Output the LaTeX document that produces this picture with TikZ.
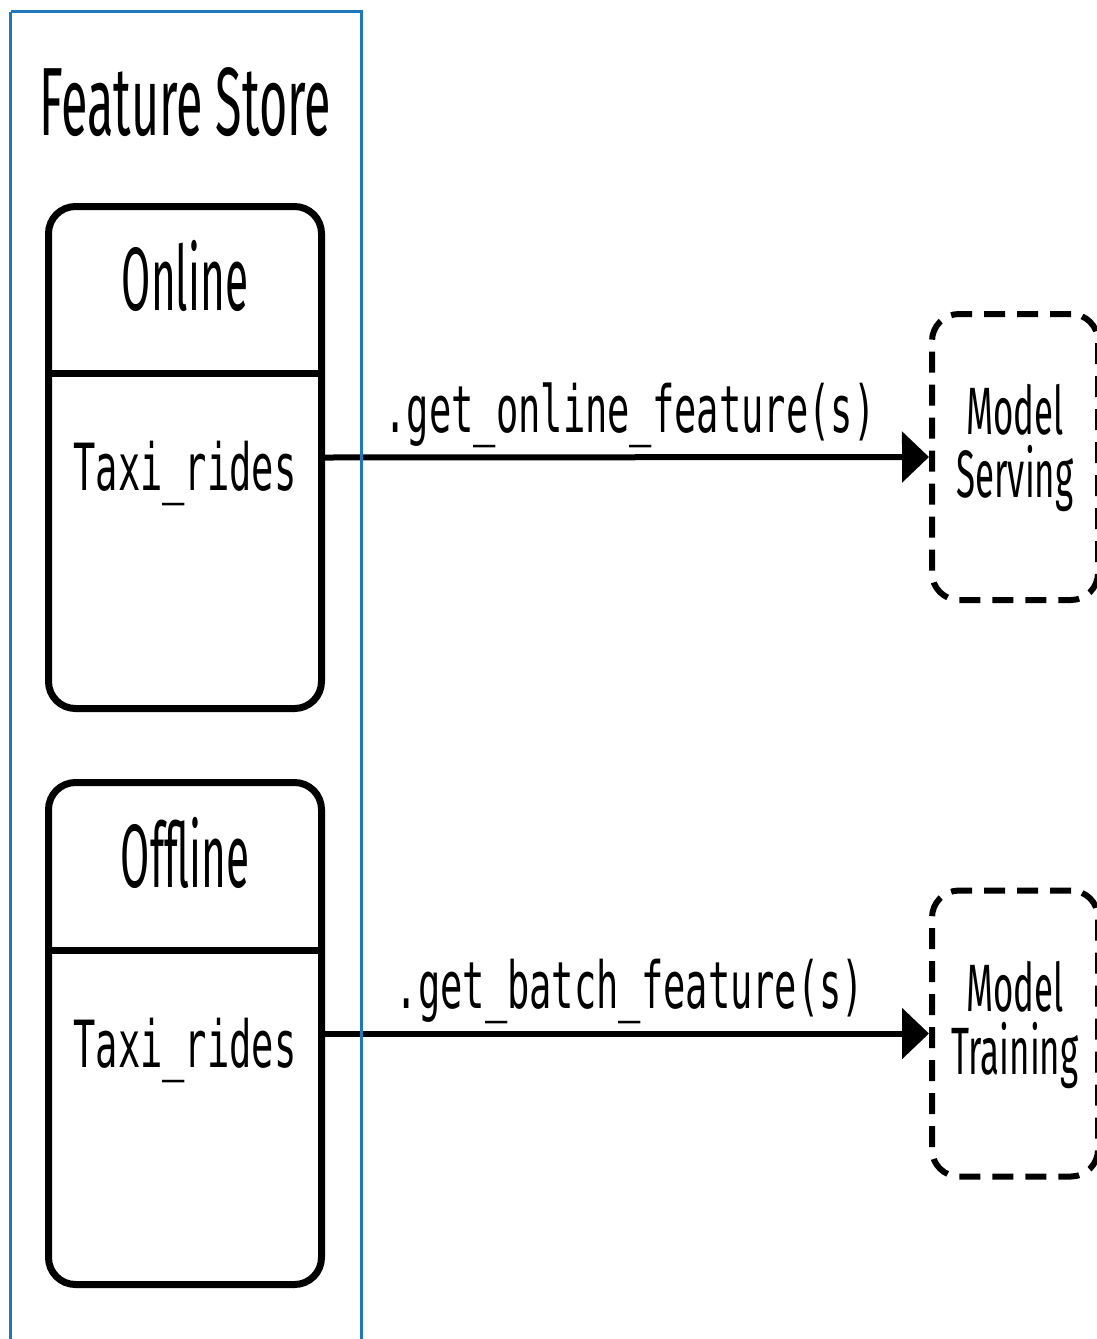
\documentclass[tikz,border=0pt]{standalone}
\usepackage{fontspec}
\setmainfont{Fira Sans}
\newfontfamily\condsans[FakeStretch=0.5]{Fira Sans}
\newfontfamily\subsans[FakeStretch=0.47]{Fira Sans}
\newfontfamily\modelsans[FakeStretch=0.52]{Fira Sans}
\newfontfamily\condmono[FakeStretch=0.57]{DejaVu Sans Mono}
\usetikzlibrary{arrows.meta}
\definecolor{fsblue}{HTML}{1F78BE}
\tikzset{
  frame/.style={draw=fsblue, line width=3.5pt},
  storebox/.style={draw, line width=7pt, rounded corners=27pt, minimum width=273pt, inner sep=0pt},
  divider/.style={line width=7pt},
  dashbox/.style={draw, line width=6pt, dash pattern=on 21pt off 12pt, rounded corners=27pt,
    minimum width=166pt, minimum height=286pt, inner sep=0pt},
  modeltext/.style={inner sep=0pt, align=center, font=\modelsans\fontsize{67}{63}\selectfont},
  conn/.style={line width=6pt, -{Triangle[length=27pt,width=50pt]}},
  title/.style={anchor=base, inner sep=0pt, font=\condsans\fontsize{97}{110}\selectfont},
  subtitle/.style={anchor=base, inner sep=0pt, font=\subsans\fontsize{90}{100}\selectfont},
  monotext/.style={anchor=base, inner sep=0pt, font=\condmono\fontsize{65}{75}\selectfont},
}
\begin{document}
\begin{tikzpicture}[x=1pt,y=-1pt]
\useasboundingbox (0,0) rectangle (1096,1339);
% store boxes
\node[storebox, minimum height=502pt] (online) at (185,457.5) {};
\node[storebox, minimum height=502pt] (offline) at (185,1033.5) {};
\coordinate (onl) at (48.5,373);
\coordinate (onr) at (321.5,373);
\coordinate (offl) at (48.5,950);
\coordinate (offr) at (321.5,950);
\draw[divider] (onl) -- (onr);
\draw[divider] (offl) -- (offr);
% texts in the store
\node[title] (fstitle) at (185,135) {Feature Store};
\node[subtitle] (onlinetitle) at (185,310) {Online};
\node[monotext] (ontaxi) at (185,490) {Taxi\_rides};
\node[subtitle] (offlinetitle) at (185,887) {Offline};
\node[monotext] (offtaxi) at (185,1067) {Taxi\_rides};
% consumers
\node[dashbox] (serving) at (1015,457) {};
\node[dashbox] (training) at (1015,1033.5) {};
\node[modeltext] (servinglbl) at ([yshift=9pt]serving.center) {Model\\Serving};
\node[modeltext] (traininglbl) at ([yshift=9pt]training.center) {Model\\Training};
% connectors
\draw[conn] (online.east) -- (serving.west);
\draw[conn] (offline.east) -- (training.west);
\node[monotext] (onlbl) at (630,432) {.get\_online\_feature(s)};
\node[monotext] (offlbl) at (630,1008) {.get\_batch\_feature(s)};
% feature store frame
\draw[frame] (10.5,11.5) -- (361.5,11.5) -- (361.5,1360);
\draw[frame] (10.5,11.5) -- (10.5,1360);
\end{tikzpicture}
\end{document}
